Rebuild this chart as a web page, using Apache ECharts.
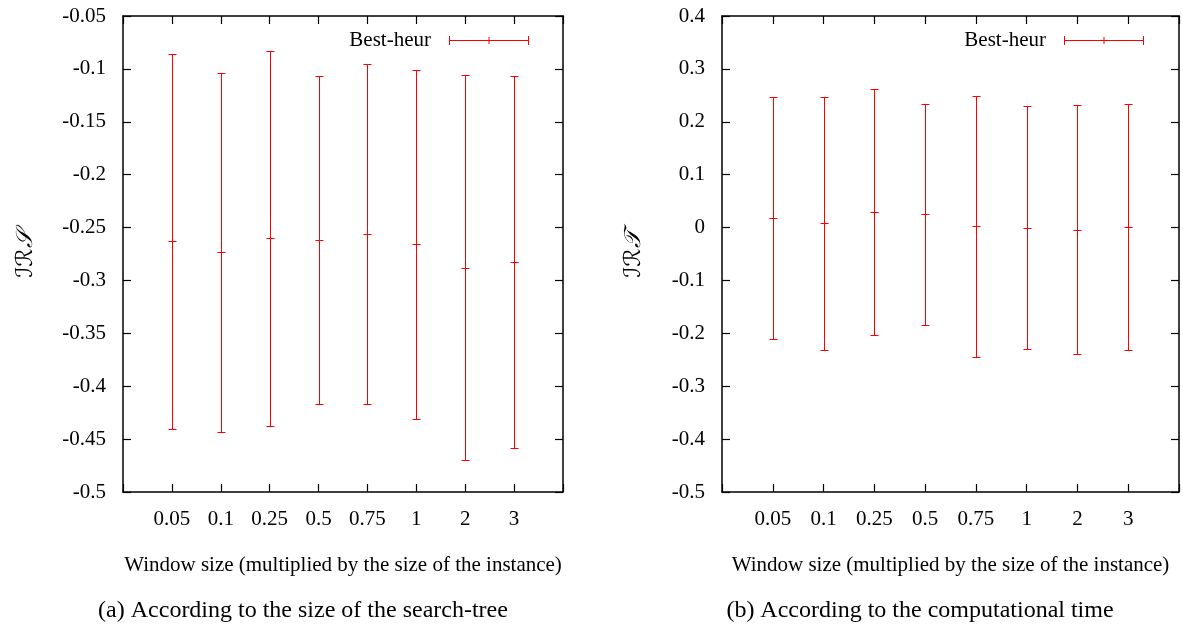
<!DOCTYPE html>
<html>
<head>
<meta charset="utf-8">
<script src="https://cdn.jsdelivr.net/npm/echarts@6/dist/echarts.min.js"></script>
<style>
html,body{margin:0;padding:0;background:#fff;}
#chart{width:1183px;height:624px;}
</style>
</head>
<body>
<div id="chart"></div>
<script>
// ---- data ----
const categories = ['0.05', '0.1', '0.25', '0.5', '0.75', '1', '2', '3'];
const seriesName = 'Best-heur';
// (a) IRS: mean, low, high
const irsMean = [-0.263, -0.273, -0.260, -0.262, -0.256, -0.266, -0.288, -0.283];
const irsLow  = [-0.440, -0.443, -0.438, -0.417, -0.417, -0.431, -0.470, -0.458];
const irsHigh = [-0.086, -0.104, -0.083, -0.107, -0.095, -0.101, -0.106, -0.107];
// (b) IRT: mean, low, high
const irtMean = [0.018, 0.008, 0.030, 0.025, 0.003, -0.001, -0.005, 0.001];
const irtLow  = [-0.210, -0.231, -0.203, -0.185, -0.244, -0.230, -0.240, -0.232];
const irtHigh = [0.246, 0.247, 0.262, 0.234, 0.249, 0.229, 0.231, 0.234];
const yTicksA = {min: -0.5, max: -0.05, interval: 0.05};
const yTicksB = {min: -0.5, max: 0.4, interval: 0.1};
const xTitle = 'Window size (multiplied by the size of the instance)';
const yTitleA = '\u2110\u211B\uD835\uDCAE';
const yTitleB = '\u2110\u211B\uD835\uDCAF';
const captionA = '(a) According to the size of the search-tree';
const captionB = '(b) According to the computational time';

const FONT = '"Liberation Serif", "Times New Roman", serif';
const RED = '#ff0000';

function rows(mean, low, high) {
  return categories.map((c, i) => [i + 1, mean[i], low[i], high[i]]);
}

function renderErr(params, api) {
  const x = api.value(0);
  const pm = api.coord([x, api.value(1)]);
  const pl = api.coord([x, api.value(2)]);
  const ph = api.coord([x, api.value(3)]);
  const cx = Math.round(pm[0]) + 0.5;
  const cap = 4;
  const st = {stroke: RED, lineWidth: 1, fill: null};
  const r = v => Math.round(v) + 0.5;
  return {
    type: 'group',
    children: [
      {type: 'line', shape: {x1: cx, y1: r(ph[1]), x2: cx, y2: r(pl[1])}, style: st},
      {type: 'line', shape: {x1: cx - cap, y1: r(ph[1]), x2: cx + cap, y2: r(ph[1])}, style: st},
      {type: 'line', shape: {x1: cx - cap, y1: r(pl[1]), x2: cx + cap, y2: r(pl[1])}, style: st},
      {type: 'line', shape: {x1: cx - cap, y1: r(pm[1]), x2: cx + cap, y2: r(pm[1])}, style: st}
    ]
  };
}

const fmt = v => String(parseFloat(Number(v).toFixed(2)));

function xAxes(gi) {
  const base = {
    type: 'value', gridIndex: gi, min: 0, max: categories.length + 1, interval: 1,
    splitLine: {show: false},
    axisLine: {show: true, onZero: false, lineStyle: {color: '#000', width: 1.5}},
    axisTick: {show: true, inside: true, length: 8, lineStyle: {color: '#000', width: 1.2}}
  };
  return [
    Object.assign({}, base, {
      position: 'bottom',
      axisLabel: {show: true, margin: 17, fontFamily: FONT, fontSize: 21, color: '#000',
        formatter: v => categories[v - 1] || ''},
      name: xTitle, nameLocation: 'middle', nameGap: 63,
      nameTextStyle: {fontFamily: FONT, fontSize: 21, color: '#000'}
    }),
    Object.assign({}, base, {position: 'top', axisLabel: {show: false}})
  ];
}

function yAxes(gi, t, title, gap) {
  const base = {
    type: 'value', gridIndex: gi, min: t.min, max: t.max, interval: t.interval,
    splitLine: {show: false},
    axisLine: {show: true, onZero: false, lineStyle: {color: '#000', width: 1.5}},
    axisTick: {show: true, inside: true, length: 8, lineStyle: {color: '#000', width: 1.2}}
  };
  return [
    Object.assign({}, base, {
      position: 'left',
      axisLabel: {show: true, margin: 17, fontFamily: FONT, fontSize: 21, color: '#000', formatter: fmt},
      name: title, nameLocation: 'middle', nameGap: gap,
      nameTextStyle: {fontFamily: '"DejaVu Serif", "DejaVu Sans", serif', fontSize: 23, color: '#000', fontStyle: 'italic'}
    }),
    Object.assign({}, base, {position: 'right', axisLabel: {show: false}})
  ];
}

const legendIcon = 'path://M0,0h1v9h-1z M79,0h1v9h-1z M0,4h80v1h-80z M39.5,1h1v7h-1z';
function legend(right) {
  return {
    show: true, data: [seriesName], right: right, top: 25, orient: 'horizontal',
    align: 'right', icon: legendIcon, itemWidth: 80, itemHeight: 9, selectedMode: false,
    textStyle: {fontFamily: FONT, fontSize: 21, color: '#000', padding: [0, 13, 0, 0]}
  };
}

const chart = echarts.init(document.getElementById('chart'), null, {renderer: 'canvas'});
chart.setOption({
  animation: false,
  backgroundColor: '#fff',
  grid: [
    {left: 123, right: 620, top: 16, bottom: 132},
    {left: 722, right: 4, top: 16, bottom: 132}
  ],
  xAxis: [...xAxes(0), ...xAxes(1)],
  yAxis: [...yAxes(0, yTicksA, yTitleA, 85), ...yAxes(1, yTicksB, yTitleB, 76)],
  legend: [legend(649), legend(34)],
  title: [
    {text: captionA, left: 303, top: 599, textAlign: 'center',
      textStyle: {fontFamily: FONT, fontSize: 24, fontWeight: 'normal', color: '#000'}, padding: 0},
    {text: captionB, left: 920, top: 599, textAlign: 'center',
      textStyle: {fontFamily: FONT, fontSize: 24, fontWeight: 'normal', color: '#000'}, padding: 0}
  ],
  series: [
    {name: seriesName, type: 'custom', xAxisIndex: 0, yAxisIndex: 0, itemStyle: {color: RED},
      renderItem: renderErr, data: rows(irsMean, irsLow, irsHigh), encode: {x: 0, y: [1, 2, 3]}},
    {name: seriesName, type: 'custom', xAxisIndex: 2, yAxisIndex: 2, itemStyle: {color: RED},
      renderItem: renderErr, data: rows(irtMean, irtLow, irtHigh), encode: {x: 0, y: [1, 2, 3]}}
  ]
});
</script>
</body>
</html>
